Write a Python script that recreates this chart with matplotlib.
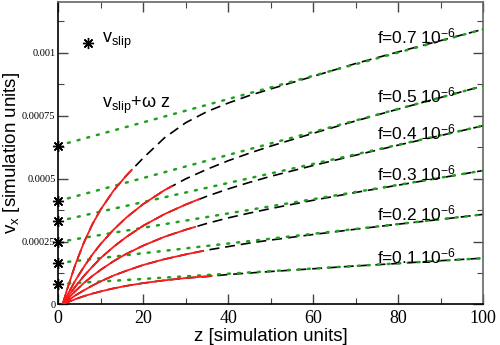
import matplotlib
matplotlib.use("Agg")
import matplotlib.pyplot as plt
from matplotlib.ticker import MultipleLocator

# ---------------- data (v in units of 1e-3) ----------------
f_labels = ["f=0.7 10", "f=0.5 10", "f=0.4 10", "f=0.3 10", "f=0.2 10", "f=0.1 10"]
label_y = [1.066, 0.829, 0.684, 0.521, 0.361, 0.192]

v_slip = [0.631, 0.411, 0.331, 0.248, 0.165, 0.081]
v_line_end = [1.093, 0.868, 0.710, 0.532, 0.358, 0.184]   # slip + omega*z at z=100
line_z = [0, 100]

dash_z = [1, 2, 4, 6, 8, 10, 13, 16, 20, 25, 30, 35, 40, 45, 50, 60, 70, 80, 90, 100]
dash_v = [
    [0, 0.056, 0.158, 0.245, 0.318, 0.378, 0.452, 0.512, 0.582, 0.662, 0.722, 0.766, 0.800, 0.830, 0.856, 0.906, 0.957, 1.003, 1.048, 1.093],
    [0, 0.034, 0.095, 0.149, 0.198, 0.241, 0.297, 0.345, 0.399, 0.454, 0.499, 0.537, 0.571, 0.601, 0.629, 0.680, 0.729, 0.776, 0.822, 0.868],
    [0, 0.025, 0.071, 0.113, 0.150, 0.185, 0.229, 0.268, 0.313, 0.359, 0.397, 0.430, 0.459, 0.485, 0.509, 0.552, 0.593, 0.633, 0.671, 0.710],
    [0, 0.019, 0.053, 0.085, 0.113, 0.138, 0.172, 0.201, 0.234, 0.269, 0.297, 0.322, 0.344, 0.363, 0.381, 0.414, 0.445, 0.474, 0.503, 0.532],
    [0, 0.0125, 0.036, 0.056, 0.075, 0.092, 0.115, 0.134, 0.157, 0.180, 0.199, 0.216, 0.230, 0.244, 0.256, 0.278, 0.299, 0.319, 0.338, 0.358],
    [0, 0.0075, 0.021, 0.033, 0.043, 0.052, 0.064, 0.074, 0.085, 0.096, 0.105, 0.111, 0.119, 0.125, 0.131, 0.142, 0.153, 0.163, 0.174, 0.184],
]

red_z = [
    [1, 2, 4, 6, 8, 10, 13, 16, 17.3],
    [1, 2, 4, 6, 8, 10, 13, 16, 20, 25, 26.7],
    [1, 2, 4, 6, 8, 10, 13, 16, 20, 25, 30, 33.2],
    [1, 2, 4, 6, 8, 10, 13, 16, 20, 25, 30, 32.2],
    [1, 2, 4, 6, 8, 10, 13, 16, 20, 25, 30, 34.1],
    [1, 2, 4, 6, 8, 10, 13, 16, 20, 25, 30, 36.1],
]
red_v = [
    [0, 0.056, 0.158, 0.245, 0.318, 0.378, 0.452, 0.512, 0.535],
    [0, 0.034, 0.095, 0.149, 0.198, 0.241, 0.297, 0.345, 0.399, 0.454, 0.470],
    [0, 0.025, 0.071, 0.113, 0.150, 0.185, 0.229, 0.268, 0.313, 0.359, 0.397, 0.419],
    [0, 0.019, 0.053, 0.085, 0.113, 0.138, 0.172, 0.201, 0.234, 0.269, 0.297, 0.308],
    [0, 0.0125, 0.036, 0.056, 0.075, 0.092, 0.115, 0.134, 0.157, 0.180, 0.199, 0.213],
    [0, 0.0075, 0.021, 0.033, 0.043, 0.052, 0.064, 0.074, 0.085, 0.096, 0.105, 0.114],
]

legend_star = (7.1, 1.037)
xticks = [0, 20, 40, 60, 80, 100]
yticks = [0, 0.25, 0.5, 0.75, 1.0]
ytick_labels = ["0", "0.00025", "0.0005", "0.00075", "0.001"]

# ---------------- figure ----------------
plt.rcParams['mathtext.default'] = 'regular'
sans = 'Liberation Sans'
serif = 'Liberation Serif'

fig = plt.figure(figsize=(5.0, 3.45), dpi=100)
ax = fig.add_axes([0.1166, 0.1174, 0.85, 0.876])

star = (8, 2, 0)
green = '#1fa01f'

for k in range(len(v_slip)):
    ax.plot(dash_z, dash_v[k], color='black', lw=1.2, ls=(0, (6, 3.5)), zorder=2)
    ax.plot(line_z, [v_slip[k], v_line_end[k]], color=green, lw=1.8,
            ls=(0, (0.8, 3.2)), dash_capstyle='round', zorder=3)
    ax.plot(red_z[k], red_v[k], color='#ff1a1a', lw=1.3, zorder=4)
    ax.plot([0], [v_slip[k]], marker=star, color='black', ms=8, mew=1.0,
            ls='none', clip_on=False, zorder=5)
    ax.text(74.9, label_y[k], f_labels[k] + '$^{-6}$', fontsize=12.5,
            family=sans, ha='left', va='center', zorder=6)

ax.plot([legend_star[0]], [legend_star[1]], marker=star, color='black', ms=8,
        mew=1.0, ls='none')
ax.text(10.3, 1.045, 'v$_{slip}$', fontsize=13, family=sans, va='center')
ax.text(10.3, 0.79, 'v$_{slip}$+ω z', fontsize=13, family=sans, va='center')

ax.set_xlim(0, 100)
ax.set_ylim(0, 1.2)
ax.set_xticks(xticks)
ax.set_xticklabels([str(t) for t in xticks], family=serif, fontsize=13)
ax.set_yticks(yticks)
ax.set_yticklabels(ytick_labels, family=serif, fontsize=7.5)
ax.xaxis.set_minor_locator(MultipleLocator(10))
ax.yaxis.set_minor_locator(MultipleLocator(0.125))
ax.tick_params(which='both', direction='in', top=True, right=True, color='#444444')
ax.tick_params(which='major', length=7, width=1.0)
ax.tick_params(which='minor', length=4, width=0.8)
ax.tick_params(axis='x', pad=4)
ax.tick_params(axis='y', pad=2)
for side in ['left', 'bottom']:
    ax.spines[side].set_color('black')
    ax.spines[side].set_linewidth(1.2)
for side in ['right', 'top']:
    ax.spines[side].set_color('#666666')
    ax.spines[side].set_linewidth(1.2)

ax.set_xlabel('z [simulation units]', family=sans, fontsize=13.5, labelpad=1)
ax.set_ylabel('v$_x$ [simulation units]', family=sans, fontsize=13.5, labelpad=0)

fig.savefig('out.png', dpi=100)
